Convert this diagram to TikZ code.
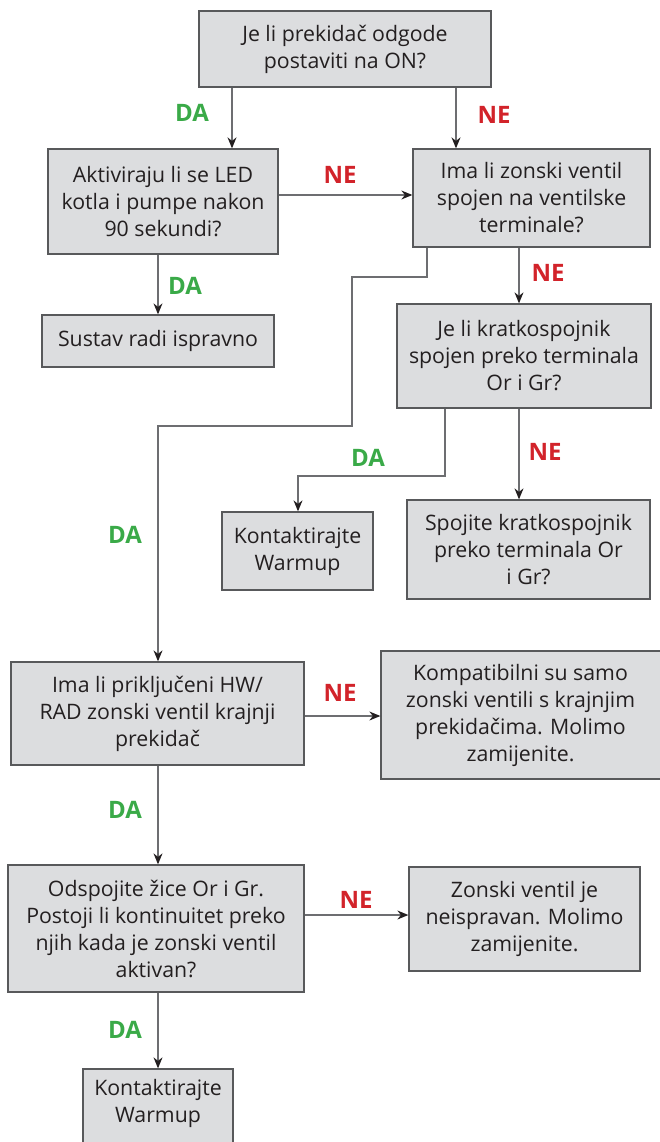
\documentclass[tikz,border=0pt]{standalone}
\usepackage{fontspec}
\setmainfont{Open Sans}
\usetikzlibrary{arrows.meta}
\definecolor{boxfill}{HTML}{DCDDDF}
\definecolor{boxline}{HTML}{58595B}
\definecolor{txt}{HTML}{231F20}
\definecolor{wire}{HTML}{6D6E71}
\definecolor{yes}{HTML}{3AAA48}
\definecolor{no}{HTML}{D2232A}
\begin{document}
\begin{tikzpicture}[x=1pt,y=-1pt,
  stepbox/.style={draw=boxline,fill=boxfill,line width=1.3pt,text=txt,
    align=center,inner sep=0pt,font=\fontsize{21.3}{27}\selectfont},
  arr/.style={draw=wire,line width=1.3pt,
    -{Stealth[length=11pt,width=9pt,color=txt]}},
  yeslab/.style={text=yes,font=\fontsize{24}{28}\selectfont\bfseries},
  nolab/.style={text=no,font=\fontsize{24}{28}\selectfont\bfseries}]
\useasboundingbox (0,0) rectangle (660,1142);

% boxes
\node[stepbox,minimum width=292pt,minimum height=76pt] (b1) at (345,49)
  {Je li prekidač odgode\\postaviti na ON?};
\node[stepbox,minimum width=230pt,minimum height=105pt] (b2) at (163,201.5)
  {Aktiviraju li se LED\\kotla i pumpe nakon\\90 sekundi?};
\node[stepbox,minimum width=237pt,minimum height=98pt] (b3) at (531.5,198)
  {Ima li zonski ventil\\spojen na ventilske\\terminale?};
\node[stepbox,minimum width=232pt,minimum height=52pt] (b4) at (158,341)
  {Sustav radi ispravno};
\node[stepbox,minimum width=254pt,minimum height=104pt] (b5) at (524,356)
  {Je li kratkospojnik\\spojen preko terminala\\Or i Gr?};
\node[stepbox,minimum width=151pt,minimum height=78pt] (b6) at (297.5,551)
  {Kontaktirajte\\Warmup};
\node[stepbox,minimum width=243pt,minimum height=99pt] (b7) at (528.5,549.5)
  {Spojite kratkospojnik\\preko terminala Or\\i Gr?};
\node[stepbox,minimum width=293pt,minimum height=103pt] (b8) at (157.5,713.5)
  {Ima li priključeni HW/\\RAD zonski ventil krajnji\\prekidač};
\node[stepbox,minimum width=289pt,minimum height=128pt] (b9) at (525.5,715)
  {\hspace*{-10pt}Kompatibilni su samo\\\hspace*{-10pt}zonski ventili s krajnjim\\\hspace*{-10pt}prekidačima. Molimo\\\hspace*{-10pt}zamijenite.};
\node[stepbox,minimum width=296pt,minimum height=127pt] (b10) at (156,928.5)
  {Odspojite žice Or i Gr.\\Postoji li kontinuitet preko\\njih kada je zonski ventil\\aktivan?};
\node[stepbox,minimum width=231pt,minimum height=104pt] (b11) at (524.5,919)
  {Zonski ventil je\\neispravan. Molimo\\zamijenite.};
\node[stepbox,minimum width=150pt,minimum height=81pt,text depth=17pt] (b12) at (158,1109.5)
  {Kontaktirajte\\Warmup};

% x positions of the vertical runs
\coordinate (xa) at (232,0);
\coordinate (xb) at (456,0);
\coordinate (xc) at (158,0);
\coordinate (xd) at (427,0);
\coordinate (xe) at (519,0);
\coordinate (xf) at (445,0);
\coordinate (xg) at (298,0);
% bends of the elbow connectors
\coordinate (k1) at (427,277);
\coordinate (k2) at (352,277);
\coordinate (k3) at (352,426);
\coordinate (k4) at (158,426);
\coordinate (k5) at (445,476);
\coordinate (k6) at (298,476);
\coordinate (ya) at (0,195);
\coordinate (yb) at (0,716);
\coordinate (yc) at (0,915);

% connectors
\draw[arr] (b1.south -| xa) -- (b2.north -| xa);
\draw[arr] (b1.south -| xb) -- (b3.north -| xb);
\draw[arr] (b2.east |- ya) -- (b3.west |- ya);
\draw[arr] (b2.south -| xc) -- (b4.north -| xc);
\draw[arr] (b3.south -| xd) -- (k1) -- (k2) -- (k3) -- (k4) -- (b8.north -| xc);
\draw[arr] (b3.south -| xe) -- (b5.north -| xe);
\draw[arr] (b5.south -| xf) -- (k5) -- (k6) -- (b6.north -| xg);
\draw[arr] (b5.south -| xe) -- (b7.north -| xe);
\draw[arr] (b8.east |- yb) -- (b9.west |- yb);
\draw[arr] (b8.south -| xc) -- (b10.north -| xc);
\draw[arr] (b10.east |- yc) -- (b11.west |- yc);
\draw[arr] (b10.south -| xc) -- (b12.north -| xc);

% branch labels
\node[yeslab] (l1) at (192,113) {DA};
\node[nolab]  (l2) at (494,115) {NE};
\node[nolab]  (l3) at (340,175) {NE};
\node[yeslab] (l4) at (185,286) {DA};
\node[yeslab] (l5) at (125,535) {DA};
\node[nolab]  (l6) at (548,273) {NE};
\node[yeslab] (l7) at (368,458) {DA};
\node[nolab]  (l8) at (545,452) {NE};
\node[nolab]  (l9) at (340,693) {NE};
\node[yeslab] (l10) at (125,810) {DA};
\node[nolab]  (l11) at (356,900) {NE};
\node[yeslab] (l12) at (125,1030) {DA};
\end{tikzpicture}
\end{document}
